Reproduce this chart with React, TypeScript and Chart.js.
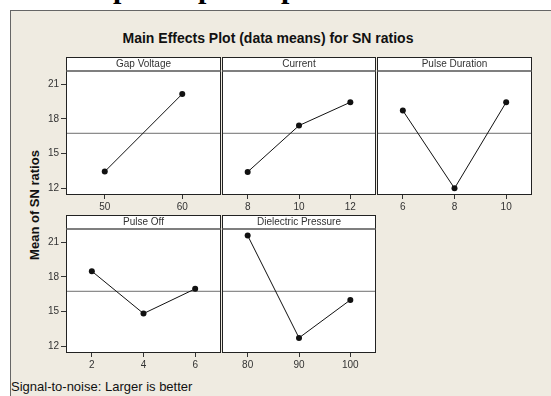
import React, { useEffect, useRef } from "react";
import { Chart, registerables } from "chart.js";

Chart.register(...registerables);

// ---- data ----
const gapVoltageLevels = [50, 60];
const gapVoltageMeans = [13.43, 20.16];
const currentLevels = [8, 10, 12];
const currentMeans = [13.4, 17.42, 19.44];
const pulseDurationLevels = [6, 8, 10];
const pulseDurationMeans = [18.72, 11.98, 19.44];
const pulseOffLevels = [2, 4, 6];
const pulseOffMeans = [18.49, 14.82, 16.96];
const dielectricPressureLevels = [80, 90, 100];
const dielectricPressureMeans = [21.58, 12.71, 16.0];
const yTickValues = [12, 15, 18, 21];
const overallMean = 16.75;
const yMin = 11.4;
const yMax = 22.15;

const panels = [
  { label: "Gap Voltage", levels: gapVoltageLevels, means: gapVoltageMeans, row: 0, col: 0 },
  { label: "Current", levels: currentLevels, means: currentMeans, row: 0, col: 1 },
  { label: "Pulse Duration", levels: pulseDurationLevels, means: pulseDurationMeans, row: 0, col: 2 },
  { label: "Pulse Off", levels: pulseOffLevels, means: pulseOffMeans, row: 1, col: 0 },
  { label: "Dielectric Pressure", levels: dielectricPressureLevels, means: dielectricPressureMeans, row: 1, col: 1 },
];

// ---- layout ----
const COL_LEFT = [66, 222, 377];
const COL_RIGHT = [222, 377, 533];
const HEADER_TOP = [57, 215];
const HEADER_H = 14;
const PLOT_H = 124;
const AXIS_W = 60;
const AXIS_H = 24;
const PAD_TOP = 2;
const PAD_RIGHT = 3;
const FONT = "'Liberation Sans', Arial, sans-serif";
const BEIGE = "#EFEBE1";

const panelPlugin = {
  id: "panelFrame",
  beforeDraw(chart: any) {
    const { ctx, chartArea } = chart;
    const { left, right, top, bottom } = chartArea;
    ctx.save();
    ctx.fillStyle = "#ffffff";
    ctx.fillRect(left, top - HEADER_H, right - left, bottom - top + HEADER_H);
    ctx.restore();
  },
  afterDraw(chart: any) {
    const { ctx, chartArea } = chart;
    const { left, right, top, bottom } = chartArea;
    const label = chart.options.plugins.panelFrame.label;
    ctx.save();
    ctx.strokeStyle = "#222";
    ctx.lineWidth = 1;
    ctx.strokeRect(left + 0.5, top - HEADER_H + 0.5, right - left - 1, bottom - top + HEADER_H - 1);
    ctx.strokeStyle = "#555";
    ctx.lineWidth = 1.6;
    ctx.beginPath();
    ctx.moveTo(left, top);
    ctx.lineTo(right, top);
    ctx.stroke();
    ctx.fillStyle = "#333";
    ctx.font = `10px ${FONT}`;
    ctx.textAlign = "center";
    ctx.textBaseline = "middle";
    ctx.fillText(label, (left + right) / 2, top - HEADER_H / 2 + 0.5);
    ctx.restore();
  },
};

export default function App() {
  const refs = useRef<(HTMLCanvasElement | null)[]>([]);

  useEffect(() => {
    document.body.style.margin = "0";
    document.body.style.overflow = "hidden";
    document.documentElement.style.overflow = "hidden";
    const charts: Chart[] = [];
    panels.forEach((p, i) => {
      const canvas = refs.current[i];
      if (!canvas) return;
      const step = p.levels[1] - p.levels[0];
      const xMin = p.levels[0] - step / 2;
      const xMax = p.levels[p.levels.length - 1] + step / 2;
      const first = p.col === 0;
      const chart = new Chart(canvas, {
        type: "line",
        data: {
          datasets: [
            {
              data: p.levels.map((x, k) => ({ x, y: p.means[k] })),
              borderColor: "#111",
              borderWidth: 1,
              pointRadius: 3,
              pointBackgroundColor: "#111",
              pointBorderColor: "#111",
              pointBorderWidth: 0,
              tension: 0,
              order: 1,
            },
            {
              data: [
                { x: xMin, y: overallMean },
                { x: xMax, y: overallMean },
              ],
              borderColor: "#6e6e6e",
              borderWidth: 1,
              pointRadius: 0,
              order: 2,
            },
          ],
        },
        options: {
          animation: false,
          responsive: false,
          events: [],
          layout: { padding: { top: PAD_TOP + HEADER_H, right: PAD_RIGHT, left: 0, bottom: 0 } },
          plugins: {
            legend: { display: false },
            tooltip: { enabled: false },
            panelFrame: { label: p.label },
          } as any,
          scales: {
            x: {
              type: "linear",
              min: xMin,
              max: xMax,
              afterBuildTicks: (s: any) => {
                s.ticks = p.levels.map((v) => ({ value: v }));
              },
              afterFit: (s: any) => {
                s.height = AXIS_H;
              },
              border: { display: false },
              grid: { drawOnChartArea: false, drawTicks: true, tickLength: 4, color: "#333" },
              ticks: {
                color: "#333",
                padding: 2,
                font: { family: FONT, size: 10 },
                maxRotation: 0,
                autoSkip: false,
                callback: (v: any) => String(v),
              },
            },
            y: {
              type: "linear",
              min: yMin,
              max: yMax,
              afterBuildTicks: (s: any) => {
                s.ticks = yTickValues.map((v) => ({ value: v }));
              },
              afterFit: (s: any) => {
                s.width = AXIS_W;
              },
              border: { display: false },
              grid: { drawOnChartArea: false, drawTicks: first, tickLength: 5, color: "#333" },
              ticks: {
                display: first,
                color: "#333",
                padding: 2,
                font: { family: FONT, size: 10 },
                callback: (v: any) => String(v),
              },
            },
          },
        },
        plugins: [panelPlugin],
      } as any);
      charts.push(chart);
    });
    return () => charts.forEach((c) => c.destroy());
  }, []);

  return (
    <div
      style={{
        position: "fixed",
        left: 0,
        top: 0,
        width: 551,
        height: 396,
        background: "#ffffff",
        overflow: "hidden",
        fontFamily: FONT,
      }}
    >
      {/* clipped heading fragments above the figure */}
      {[113, 198, 281].map((x, i) => (
        <span
          key={i}
          style={{
            position: "absolute",
            left: x,
            top: -27,
            fontFamily: "'Liberation Serif', 'Times New Roman', serif",
            fontWeight: "bold",
            fontSize: 30,
            lineHeight: "30px",
            color: "#000",
          }}
        >
          p
        </span>
      ))}
      <div
        style={{
          position: "absolute",
          left: 10,
          top: 10,
          width: 560,
          height: 400,
          background: BEIGE,
          borderTop: "1px solid #666",
          borderLeft: "1px solid #666",
        }}
      />
      <div
        style={{
          position: "absolute",
          left: 90,
          width: 356,
          top: 29,
          textAlign: "center",
          fontWeight: "bold",
          fontSize: 14,
          lineHeight: "18px",
          color: "#111",
          whiteSpace: "nowrap",
        }}
      >
        Main Effects Plot (data means) for SN ratios
      </div>
      <div
        style={{
          position: "absolute",
          left: 35 - 80,
          top: 205 - 8,
          width: 160,
          height: 16,
          lineHeight: "16px",
          textAlign: "center",
          fontWeight: "bold",
          fontSize: 13,
          color: "#111",
          transform: "rotate(-90deg)",
          transformOrigin: "center center",
          whiteSpace: "nowrap",
        }}
      >
        Mean of SN ratios
      </div>
      <div
        style={{
          position: "absolute",
          left: 11,
          top: 379,
          fontSize: 13,
          lineHeight: "16px",
          color: "#111",
          whiteSpace: "nowrap",
        }}
      >
        Signal-to-noise: Larger is better
      </div>
      {panels.map((p, i) => {
        const w = AXIS_W + (COL_RIGHT[p.col] - COL_LEFT[p.col]) + PAD_RIGHT;
        const h = PAD_TOP + HEADER_H + PLOT_H + AXIS_H;
        return (
          <canvas
            key={p.label}
            ref={(el) => {
              refs.current[i] = el;
            }}
            width={w}
            height={h}
            style={{
              position: "absolute",
              left: COL_LEFT[p.col] - AXIS_W,
              top: HEADER_TOP[p.row] - PAD_TOP,
              width: w,
              height: h,
            }}
          />
        );
      })}
    </div>
  );
}
